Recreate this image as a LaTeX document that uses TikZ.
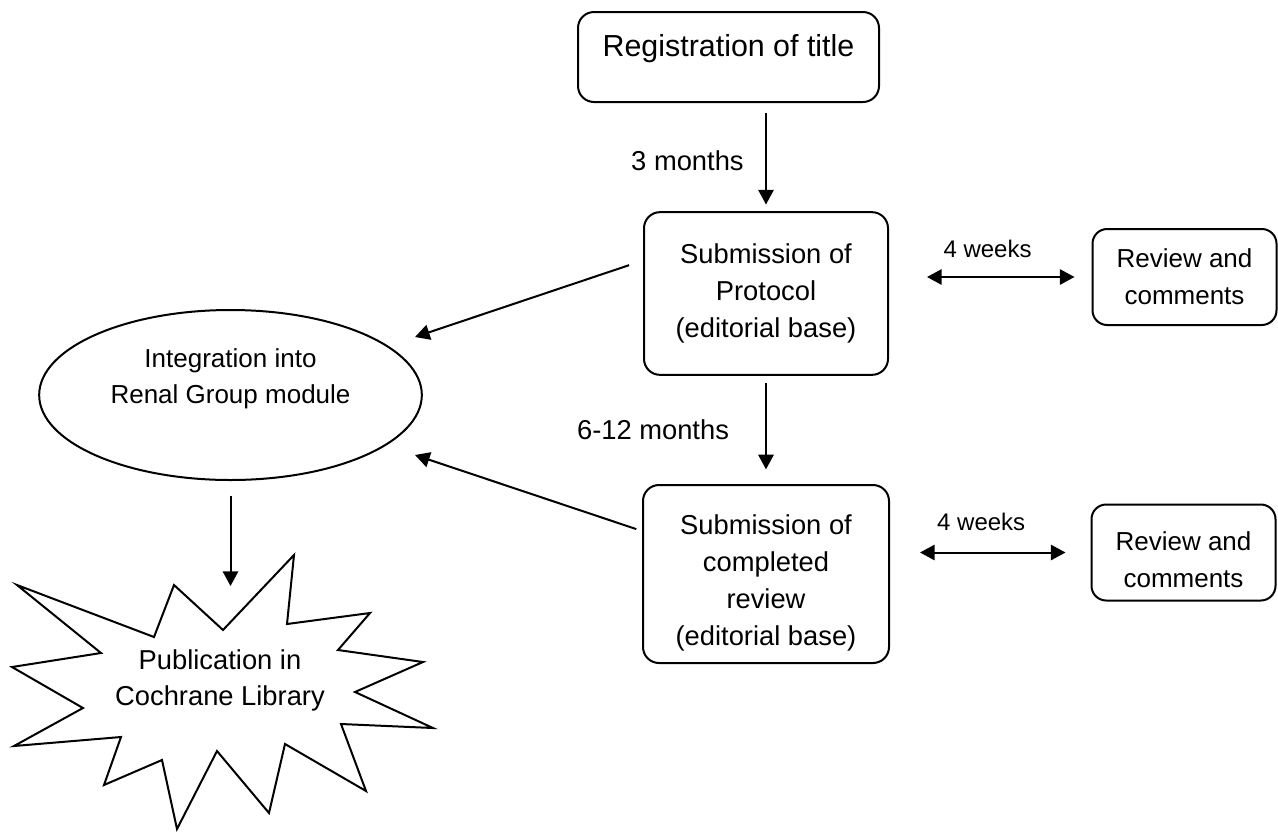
\documentclass[tikz,border=0pt]{standalone}
\usepackage{fontspec}
\setmainfont{Liberation Sans}
\usetikzlibrary{shapes,arrows.meta,positioning}
\tikzstyle{stage}=[rectangle,draw,line width=1.5pt,rounded corners=12pt,align=center,inner sep=0pt,font=\fontsize{20.5}{27.75}\selectfont]
\tikzstyle{revbox}=[rectangle,draw,line width=1.5pt,rounded corners=11pt,align=center,inner sep=0pt,minimum width=138pt,minimum height=72pt,font=\fontsize{19.5}{27.75}\selectfont]
\tikzstyle{modul}=[ellipse,draw,line width=1.5pt,align=center,inner sep=0pt,minimum width=287pt,minimum height=127.5pt,font=\fontsize{19.5}{27}\selectfont]
\tikzstyle{lbl}=[inner sep=0pt,align=center,font=\fontsize{20.5}{27}\selectfont]
\tikzstyle{wk}=[inner sep=0pt,font=\fontsize{18}{22}\selectfont]
\tikzstyle{arr}=[-{Triangle[length=11pt,width=11.5pt]},line width=1.5pt]
\tikzstyle{darr}=[{Triangle[length=11pt,width=11.5pt]}-{Triangle[length=11pt,width=11.5pt]},line width=1.5pt]
\begin{document}
\begin{tikzpicture}[x=0.75pt,y=-0.75pt]
\useasboundingbox (0,0) rectangle (1278,833);
\node[stage,minimum width=225.75pt,minimum height=67.5pt,font=\fontsize{22.8}{27.75}\selectfont] (reg) at (728.5,57) {Registration of title\rule[-17pt]{0pt}{0pt}};
\node[stage,minimum width=183pt,minimum height=122pt] (subP) at (766,293.5) {Submission of\\Protocol\\(editorial base)};
\node[stage,minimum width=184.5pt,minimum height=133.5pt] (subR) at (766,574) {\rule{0pt}{27.5pt}Submission of\\completed\\review\\(editorial base)};
\node[revbox] (revP) at (1184.5,277) {Review and\\comments};
\node[revbox] (revR) at (1183.5,552.5) {\rule{0pt}{24.7pt}Review and\\comments};
\node[modul] (integ) at (230.5,395) {Integration into\\Renal Group module\rule[-28pt]{0pt}{0pt}};
% starburst
\draw[line width=1.5pt,line join=miter] (17,585) -- (154,637) -- (174,585) -- (223,630) -- (294,555) -- (287,624) -- (370,613) -- (338,650) -- (423,662) -- (355,692) -- (433,728) -- (341,724) -- (366,791) -- (285,744) -- (269,813) -- (217,751) -- (177,829) -- (162,760) -- (104,785) -- (121,737) -- (14,746) -- (83,708) -- (12,667) -- (101,653) -- cycle;
\node[lbl] (pub) at (220,680) {Publication in\\Cochrane Library};
\coordinate (tipA) at (415,337);
\coordinate (tipB) at (415,455);
\coordinate (tipC) at (230.5,586);
\draw[arr,shorten <=7.5pt,shorten >=5pt] (reg.south -| subP.north) -- (subP.north) node[lbl,midway,left=16pt,yshift=-3pt] {3 months};
\draw[arr,shorten <=5pt,shorten >=11pt] (subP) -- (subR) node[lbl,midway,left=27pt] {6-12 months};
\draw[arr,shorten <=11pt] ([yshift=24.75pt]subP.west) -- (tipA);
\draw[arr,shorten <=4.5pt] ([yshift=32.25pt]subR.west) -- (tipB);
\draw[arr,shorten <=11pt] (integ.south) -- (tipC);
\draw[darr,shorten <=28.5pt,shorten >=12.75pt] (subP.east |- revP.west) -- (revP.west) node[wk,midway,above=14pt,xshift=-2pt] {4 weeks};
\draw[darr,shorten <=22.5pt,shorten >=18.75pt] (subR.east |- revR.west) -- (revR.west) node[wk,midway,above=15.4pt,xshift=-6.75pt] {4 weeks};
\end{tikzpicture}
\end{document}
